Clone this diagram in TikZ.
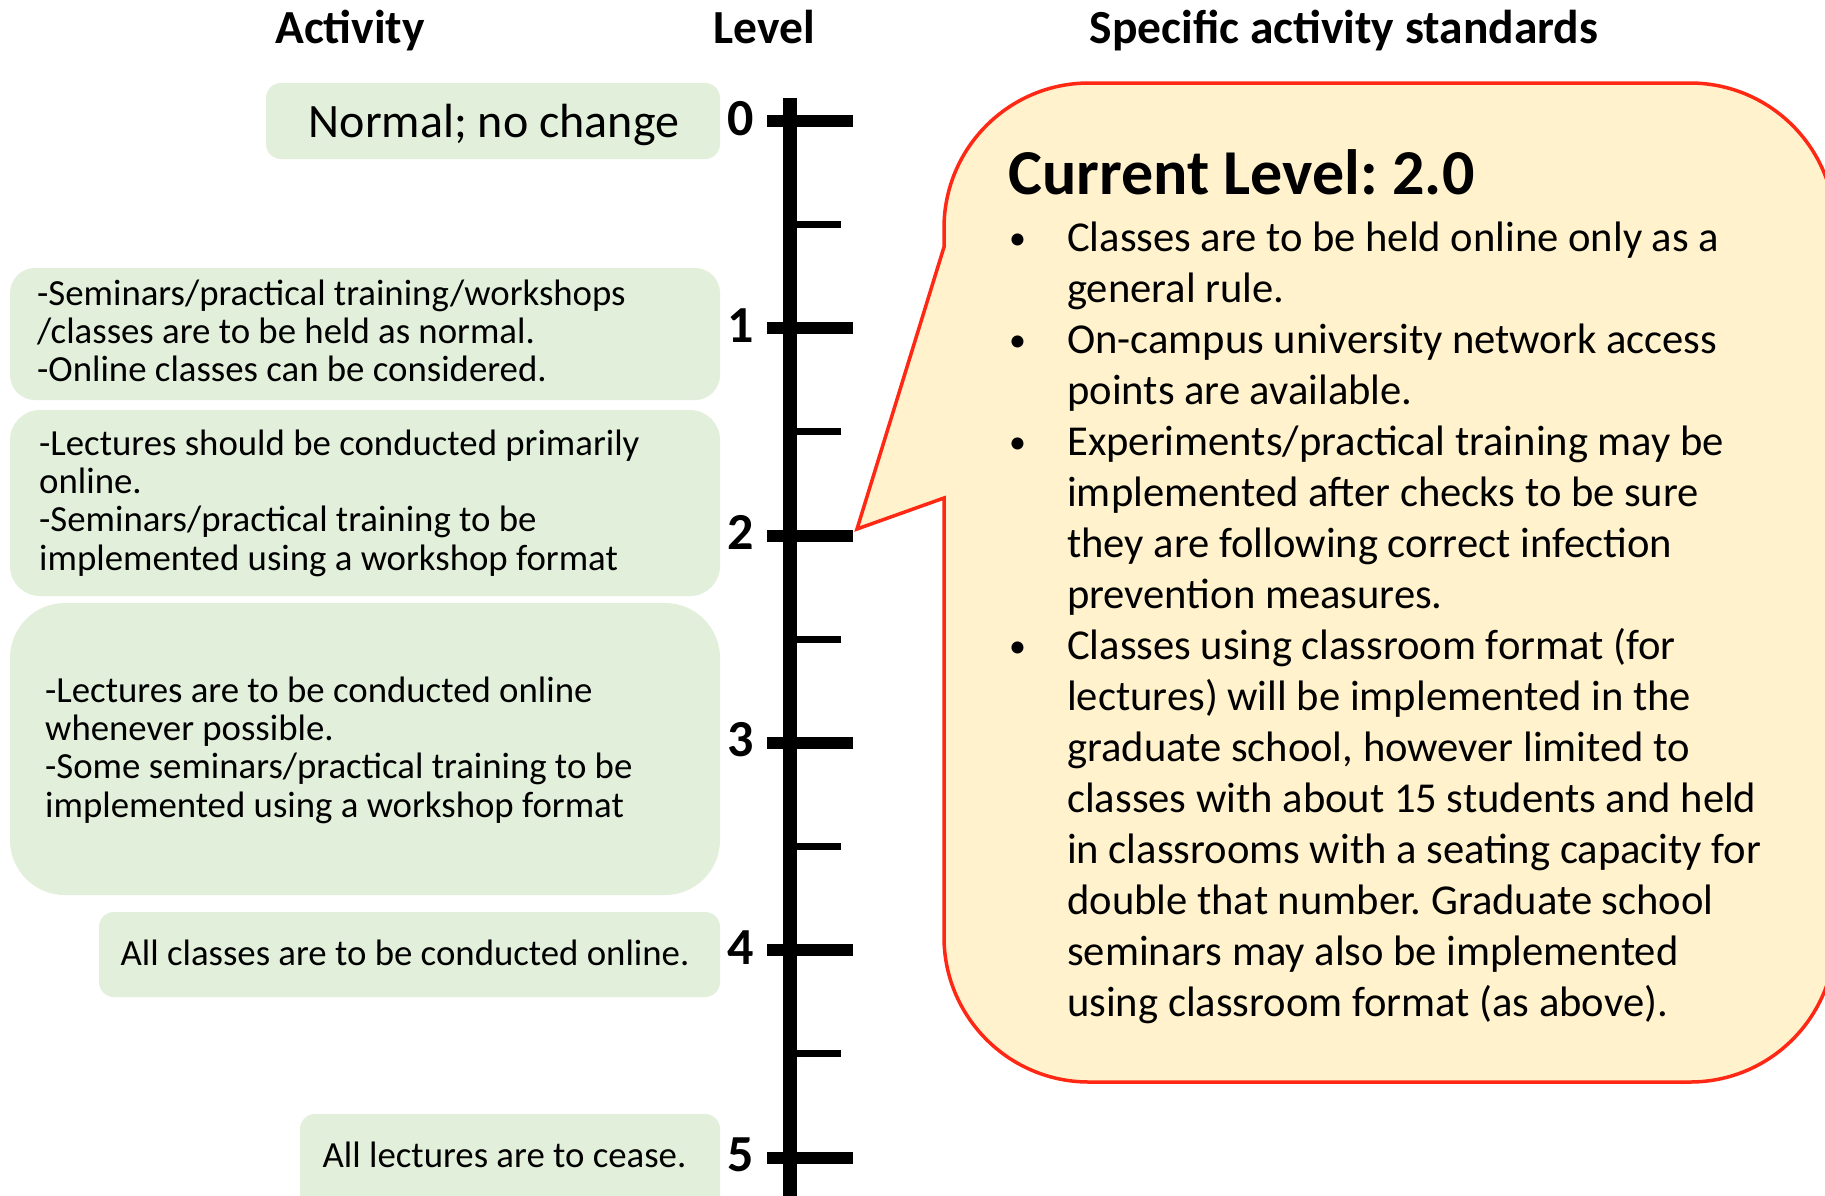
\documentclass[tikz,border=0pt]{standalone}
\usepackage{fontspec}
\setmainfont{Carlito}
\frenchspacing
\definecolor{boxgreen}{RGB}{226,239,218}
\definecolor{callfill}{RGB}{255,242,204}
\definecolor{callred}{RGB}{255,40,20}
\newcommand{\cbul}{\makebox[59pt][l]{\hspace*{1pt}\raisebox{2pt}{\fontsize{34}{34}\selectfont •}}}
\newcommand{\cind}{\hspace*{59pt}}
\begin{document}
\begin{tikzpicture}[x=1pt,y=1pt,
  actbox/.style={fill=boxgreen, draw=none, inner sep=0pt},
  boxtext/.style={inner sep=0pt, anchor=base west, font=\fontsize{36.8}{38.4}\selectfont},
  boxline/.style={inner sep=0pt, anchor=base, font=\fontsize{36.8}{38.4}\selectfont},
  hdr/.style={inner sep=0pt, anchor=base, font=\fontsize{47.5}{50}\selectfont\bfseries},
  lvl/.style={inner sep=0pt, anchor=base, font=\fontsize{52}{56}\selectfont\bfseries},
  majortick/.style={line width=12pt},
  minortick/.style={line width=7pt},
  callout/.style={fill=callfill, draw=callred, line width=3.5pt},
]
\clip (0,0) rectangle (1825,-1195);
\fill[white] (0,0) rectangle (1825,-1195);

% headers
\node[hdr] (hact) at (350,-43) {Activity};
\node[hdr] (hlvl) at (764,-43) {Level};
\node[hdr] (hspec) at (1344,-43) {Specific activity standards};

% activity boxes
\node[actbox, rounded corners=15pt, minimum width=454pt, minimum height=76pt] (b0) at (493,-121) {};
\node[actbox, rounded corners=25pt, minimum width=710pt, minimum height=132pt] (b1) at (365,-334) {};
\node[actbox, rounded corners=30pt, minimum width=710pt, minimum height=186pt] (b2) at (365,-503) {};
\node[actbox, rounded corners=55pt, minimum width=710pt, minimum height=292pt] (b3) at (365,-749) {};
\node[actbox, rounded corners=15pt, minimum width=621pt, minimum height=85pt] (b4) at (409.5,-954.5) {};
\node[actbox, rounded corners=15pt, minimum width=420pt, minimum height=101pt] (b5) at (510,-1164.5) {};

\node[inner sep=0pt, anchor=base, font=\fontsize{48}{50}\selectfont] (t0) at (494,-137) {Normal; no change};
\node[boxtext] (t1) at (37,-305) {\parbox[t]{680pt}{\raggedright
-Seminars/practical training/workshops\\
/classes are to be held as normal.\\
-Online classes can be considered.}};
\node[boxtext] (t2) at (39,-455) {\parbox[t]{680pt}{\raggedright
-Lectures should be conducted primarily\\
online.\\
-Seminars/practical training to be\\
implemented using a workshop format}};
\node[boxtext] (t3) at (45,-702) {\parbox[t]{670pt}{\raggedright
-Lectures are to be conducted online\\
whenever possible.\\
-Some seminars/practical training to be\\
implemented using a workshop format}};
\node[boxline] (t4) at (405,-965) {All classes are to be conducted online.};
\node[boxline] (t5) at (504.5,-1167) {All lectures are to cease.};

% level axis
\draw[line width=14pt] (790,-98) -- (790,-1200);
\foreach \k in {0,...,5} {
  \pgfmathsetmacro{\yy}{121+207.3*\k}
  \draw[majortick] (767,-\yy) -- (853,-\yy);
  \node[lvl] (lvl\k) at (741,-\yy-14) {\k};
}
\foreach \k in {0,...,4} {
  \pgfmathsetmacro{\yy}{224.6+207.3*\k}
  \draw[minortick] (790,-\yy) -- (841,-\yy);
}

% callout
\draw[callout] (944,-247) -- (944,-228) arc[start angle=180,end angle=90,radius=145]
  -- (1690,-83) arc[start angle=90,end angle=0,radius=145]
  -- (1835,-937) arc[start angle=0,end angle=-90,radius=145]
  -- (1089,-1082) arc[start angle=270,end angle=180,radius=145]
  -- (944,-498) -- (857,-529) -- cycle;

\node[inner sep=0pt, anchor=base west, font=\fontsize{64}{66}\selectfont\bfseries] (ctitle) at (1008,-194) {Current Level: 2.0};
\node[inner sep=0pt, anchor=base west, font=\fontsize{42.6}{51}\selectfont] (clist) at (1008,-251) {\parbox[t]{800pt}{\raggedright
\cbul Classes are to be held online only as a\\
\cind general rule.\\
\cbul On-campus university network access\\
\cind points are available.\\
\cbul Experiments/practical training may be\\
\cind implemented after checks to be sure\\
\cind they are following correct infection\\
\cind prevention measures.\\
\cbul Classes using classroom format (for\\
\cind lectures) will be implemented in the\\
\cind graduate school, however limited to\\
\cind classes with about 15 students and held\\
\cind in classrooms with a seating capacity for\\
\cind double that number. Graduate school\\
\cind seminars may also be implemented\\
\cind using classroom format (as above).}};
\end{tikzpicture}
\end{document}
